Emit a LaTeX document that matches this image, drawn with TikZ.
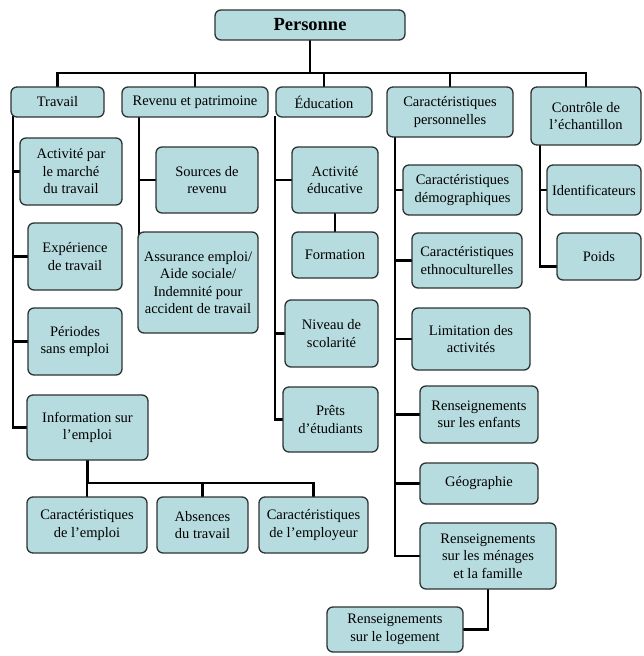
\documentclass[tikz,border=0pt]{standalone}
\usepackage{fontspec}
\setmainfont{Liberation Serif}
\usetikzlibrary{backgrounds}
\definecolor{boxfill}{RGB}{183,220,223}
\definecolor{boxline}{RGB}{45,50,50}
\begin{document}
\begin{tikzpicture}[x=1pt,y=-1pt,
  box/.style={draw=boxline, line width=1.3pt, fill=boxfill, rounded corners=6pt,
    align=center, inner sep=1pt, font=\fontsize{14.5}{17.5}\selectfont},
  conn/.style={draw=black, line width=2.6pt, line cap=rect}]
\useasboundingbox (0,0) rectangle (643,656);
% node macro: name, center x, y, width, height, text
\newcommand\bx[6]{\node[box, minimum width=#4, minimum height=#5] (#1) at (#2,#3) {#6};}
% top
\node[box, minimum width=190, minimum height=30, font=\fontsize{18.5}{20}\selectfont\bfseries] (per) at (310,25) {Personne};
\bx{trav}{57.5}{102}{93}{30}{Travail}
\bx{rev}{195}{102}{146}{30}{Revenu et patrimoine}
\bx{edu}{324}{102}{96}{30}{Éducation}
\bx{cp}{450}{112}{126}{50}{Caractéristiques\\personnelles}
\bx{ctrl}{586}{116}{110}{58}{Contrôle de\\l’échantillon}
% travail
\bx{act}{71}{171.5}{102}{67}{Activité par\\le marché\\du travail}
\bx{exp}{75}{256.5}{94}{67}{Expérience\\de travail}
\bx{sans}{75}{341.5}{94}{67}{Périodes\\sans emploi}
\bx{info}{87.5}{427.5}{121}{65}{Information sur\\l’emploi}
\bx{cemp}{87}{525}{120}{56}{Caractéristiques\\de l’emploi}
\bx{abs}{202.5}{525}{91}{56}{Absences\\du travail}
\bx{cempl}{313.5}{525}{109}{56}{Caractéristiques\\de l’employeur}
% revenu
\bx{src}{207}{180}{102}{66}{Sources de\\revenu}
\bx{ass}{198}{282.5}{120}{101}{Assurance emploi/\\Aide sociale/\\Indemnité pour\\accident de travail}
% education
\bx{acte}{335}{180}{86}{66}{Activité\\éducative}
\bx{form}{335}{255}{86}{46}{Formation}
\bx{niv}{331.5}{333.5}{93}{67}{Niveau de\\scolarité}
\bx{prets}{330.5}{419.5}{95}{65}{Prêts\\d’étudiants}
% caracteristiques personnelles
\bx{demo}{462.5}{190}{119}{50}{Caractéristiques\\démographiques}
\bx{ethno}{467}{260.5}{110}{55}{Caractéristiques\\ethnoculturelles}
\bx{lim}{471}{339}{118}{62}{Limitation des\\activités}
\bx{enf}{479}{414.5}{118}{57}{Renseignements\\sur les enfants}
\bx{geo}{479}{483.5}{118}{41}{Géographie}
\bx{men}{488}{556}{136}{66}{Renseignements\\sur les ménages\\et la famille}
\bx{log}{395}{629.5}{136}{45}{Renseignements\\sur le logement}
% controle
\bx{ident}{594}{190}{94}{50}{Identificateurs}
\bx{poids}{599}{256.5}{84}{47}{Poids}
% connectors, behind the boxes
\begin{scope}[on background layer]
\coordinate (bus) at (310,73);
\draw[conn] (per.south) -- (bus);
\draw[conn] (trav.north) |- (bus);
\draw[conn] (rev.north) |- (bus);
\draw[conn] (edu.north) |- (bus);
\draw[conn] (cp.north) |- (bus);
\draw[conn] (ctrl.north) |- (bus);
% travail
\coordinate (tl) at (13,117);
\draw[conn] (tl) |- (act.west);
\draw[conn] (tl) |- (exp.west);
\draw[conn] (tl) |- (sans.west);
\draw[conn] (tl) |- (info.west);
\coordinate (ib) at (87.5,483);
\draw[conn] (info.south) -- (ib);
\draw[conn] (ib) -| (cemp.north);
\draw[conn] (ib) -| (abs.north);
\draw[conn] (ib) -| (cempl.north);
% revenu
\coordinate (rl) at (139,117);
\coordinate (rb) at (139,245);
\draw[conn] (rl) |- (src.west);
\draw[conn] (rl) -- (rb);
% education
\coordinate (el) at (275,117);
\draw[conn] (el) |- (acte.west);
\draw[conn] (el) |- (niv.west);
\draw[conn] (el) |- (prets.west);
\draw[conn] (acte.south) -- (form.north);
% caracteristiques personnelles
\coordinate (cl) at (395,137);
\draw[conn] (cl) |- (demo.west);
\draw[conn] (cl) |- (ethno.west);
\draw[conn] (cl) |- (lim.west);
\draw[conn] (cl) |- (enf.west);
\draw[conn] (cl) |- (geo.west);
\draw[conn] (cl) |- (men.west);
\draw[conn] (men.south) |- (log.east);
% controle
\coordinate (kl) at (540,145);
\draw[conn] (kl) |- (ident.west);
\draw[conn] (kl) |- ([yshift=-10pt]poids.west);
\end{scope}
\end{tikzpicture}
\end{document}
